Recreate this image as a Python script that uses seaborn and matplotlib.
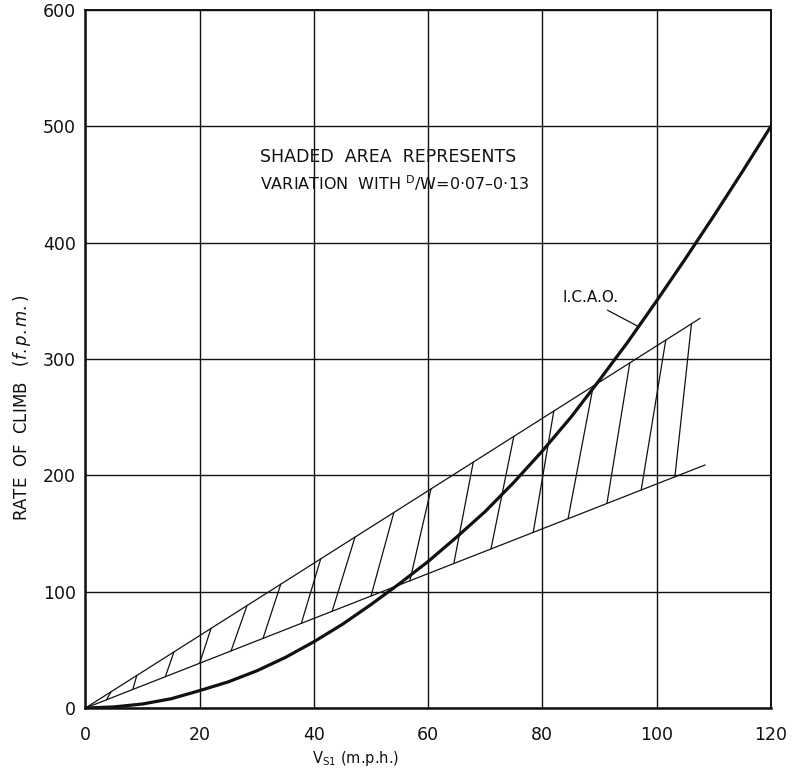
import numpy as np
import pandas as pd
import matplotlib
matplotlib.use("Agg")
import matplotlib.pyplot as plt
import seaborn as sns

# I.C.A.O. requirement curve: rate of climb (f.p.m.) against stalling speed V_S1 (m.p.h.)
icao_v = [0, 5, 10, 15, 20, 25, 30, 35, 40, 45, 50, 55, 60, 65, 70, 75, 80,
          85, 90, 95, 100, 105, 110, 115, 120]
icao_roc = [0, 1, 3.5, 8, 15, 22.5, 32, 43.5, 57, 72, 89, 107, 126, 147, 169,
            194, 221, 250, 282, 315, 350, 386, 423, 461, 500]

# Boundaries of the shaded band (D/W = 0.07 and D/W = 0.13)
upper_v = [0, 107.6]
upper_roc = [0, 335]
lower_v = [0, 108.5]
lower_roc = [0, 209]

# Hatch strokes: start speed on the lower boundary, end speed on the upper one
hatch_lower_v = [3.7, 8.3, 14.0, 20.0, 25.5, 31.1, 37.8, 43.2, 50.0, 56.8,
                 64.5, 71.0, 78.4, 84.5, 91.3, 97.3, 103.2]
hatch_upper_v = [4.5, 9.0, 15.5, 22.0, 28.3, 34.2, 41.2, 47.2, 54.0, 60.5,
                 67.9, 75.0, 82.0, 88.9, 95.3, 101.6, 106.1]

x_ticks = [0, 20, 40, 60, 80, 100, 120]
y_ticks = [0, 100, 200, 300, 400, 500, 600]

sns.set_style("white")
plt.rcParams["font.family"] = ["DejaVu Sans"]
plt.rcParams["mathtext.default"] = "regular"

fig = plt.figure(figsize=(7.98, 7.73), dpi=100)
ax = fig.add_axes([0.107, 0.084, 0.859, 0.903])

ink = "#111111"

# band boundaries
sns.lineplot(x=upper_v, y=upper_roc, ax=ax, color=ink, lw=0.9, sort=False)
sns.lineplot(x=lower_v, y=lower_roc, ax=ax, color=ink, lw=0.9, sort=False)

# hatching between the two boundaries
rows = []
for i, (vl, vu) in enumerate(zip(hatch_lower_v, hatch_upper_v)):
    rows.append({"seg": i, "v": vl, "roc": np.interp(vl, lower_v, lower_roc)})
    rows.append({"seg": i, "v": vu, "roc": np.interp(vu, upper_v, upper_roc)})
hatch = pd.DataFrame(rows)
sns.lineplot(data=hatch, x="v", y="roc", units="seg", estimator=None,
             sort=False, ax=ax, color=ink, lw=0.9)

# I.C.A.O. curve
sns.lineplot(x=icao_v, y=icao_roc, ax=ax, color=ink, lw=2.3, sort=False)

# axes, grid
ax.set_xlim(0, 120)
ax.set_ylim(0, 600)
ax.set_xticks(x_ticks)
ax.set_yticks(y_ticks)
ax.grid(True, color=ink, lw=1.0)
ax.set_axisbelow(True)
for s in ax.spines.values():
    s.set_color(ink)
    s.set_linewidth(1.4)
ax.spines["left"].set_linewidth(1.8)
ax.spines["bottom"].set_linewidth(1.8)
ax.tick_params(axis="both", length=0, labelsize=12.5, colors=ink)
ax.tick_params(axis="x", pad=13)
ax.tick_params(axis="y", pad=7)

ax.set_xlabel(r"V$_{S1}$ (m.p.h.)", fontsize=10.5, color=ink)
ax.xaxis.set_label_coords(0.331, -0.058)
ax.xaxis.label.set_horizontalalignment("left")
ax.set_ylabel("RATE  OF  CLIMB   ($\\it{f.p.m.}$)", fontsize=12, color=ink)
ax.yaxis.set_label_coords(-0.076, 0.43)

# notes
ax.text(30.6, 474, "SHADED  AREA  REPRESENTS", fontsize=12.5, color=ink,
        ha="left", va="center")
ax.text(30.6, 451, r"VARIATION  WITH $^{D}$/W=0·07–0·13", fontsize=11.5,
        color=ink, ha="left", va="center")
ax.text(88.5, 353, "I.C.A.O.", fontsize=11, color=ink, ha="center", va="center")
ax.plot([91.4, 96.6], [342, 328.5], color=ink, lw=0.9)

fig.savefig("out.png", dpi=100)
